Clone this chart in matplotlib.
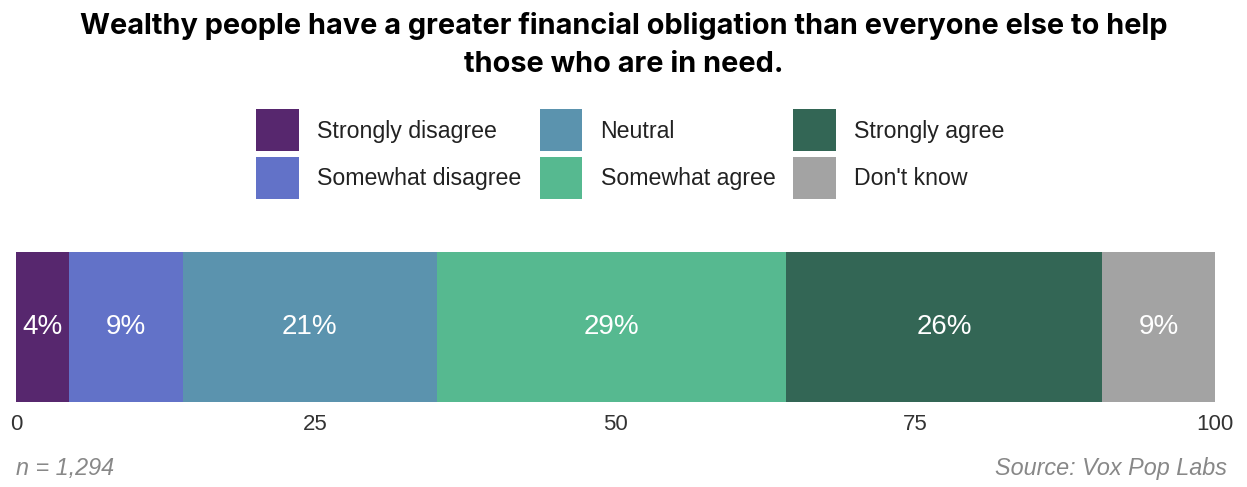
import matplotlib.pyplot as plt

# survey responses, share of respondents (%)
categories = ["Strongly disagree", "Somewhat disagree", "Neutral",
              "Somewhat agree", "Strongly agree", "Don't know"]
shares = [4.4, 9.5, 21.2, 29.1, 26.4, 9.4]
labels = ["4%", "9%", "21%", "29%", "26%", "9%"]
colors = ["#57276e", "#6272c8", "#5b93ae", "#56b990", "#336655", "#a3a3a3"]
ticks = [0, 25, 50, 75, 100]

plt.rcParams["font.family"] = ["Liberation Sans", "DejaVu Sans"]

fig = plt.figure(figsize=(12.47, 4.87), dpi=100)
ax = fig.add_axes([16 / 1247, 1 - 402 / 487, (1215 - 16) / 1247, 150 / 487])

left = 0
handles = []
for cat, val, lab, col in zip(categories, shares, labels, colors):
    bars = ax.barh(0, val, left=left, height=1, color=col, label=cat)
    handles.append(bars)
    ax.text(left + val / 2, 0, lab, ha="center", va="center",
            color="white", fontsize=20)
    left += val

ax.set_xlim(0, 100)
ax.set_ylim(-0.5, 0.5)
ax.set_yticks([])
ax.set_xticks(ticks)
ax.set_xticklabels([str(t) for t in ticks])
ax.tick_params(axis="x", length=0, pad=9, labelsize=16, labelcolor="#333333")
for spine in ax.spines.values():
    spine.set_visible(False)

fig.legend(handles=handles, labels=categories, ncol=3,
           loc="center", bbox_to_anchor=(0.5 + 7 / 1247, 1 - 154 / 487),
           frameon=False, fontsize=16.7, handlelength=1.85, handleheight=2.41,
           handletextpad=0.78, labelspacing=0.22, columnspacing=0.78,
           labelcolor="#222222")

fig.text(0.5, 1 - 45 / 487,
         "Wealthy people have a greater financial obligation than everyone else to help\n"
         "those who are in need.",
         ha="center", va="center", fontsize=20.8, fontweight="bold",
         family=["Inter", "DejaVu Sans"], linespacing=1.52, color="black")

fig.text(16 / 1247, 1 - 468 / 487, "n = 1,294", ha="left", va="center",
         fontsize=16.8, style="italic", color="#888888")
fig.text(1227 / 1247, 1 - 468 / 487, "Source: Vox Pop Labs", ha="right",
         va="center", fontsize=16.8, style="italic", color="#888888")

fig.savefig("out.png", dpi=100)
